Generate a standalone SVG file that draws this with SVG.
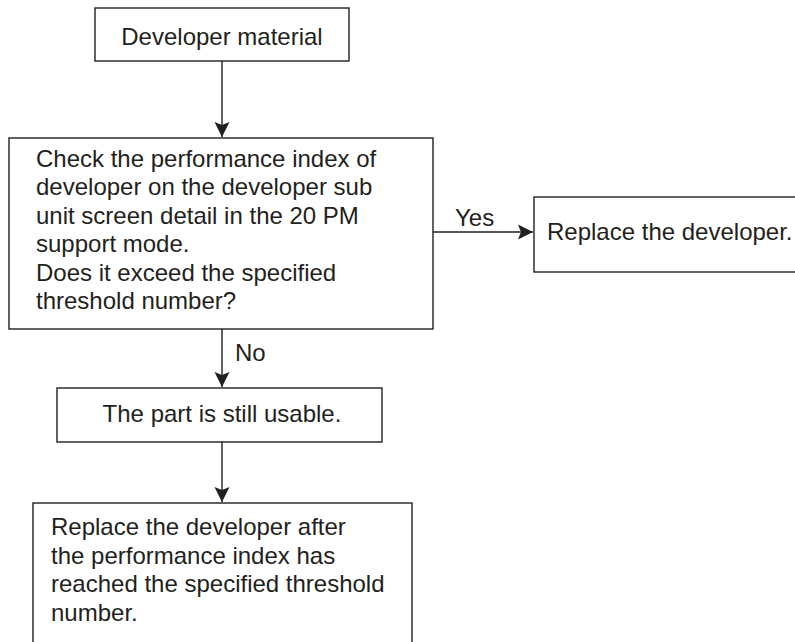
<svg xmlns="http://www.w3.org/2000/svg" width="795" height="642" viewBox="0 0 795 642">
<style>
.box{fill:#fff;stroke:#231f20;stroke-width:1.4}
.t{font-family:"Liberation Sans",Arial,sans-serif;font-size:24px;fill:#231f20}
.c{text-anchor:middle}
.ln{fill:none;stroke:#231f20;stroke-width:1.4}
</style>
<defs>
<marker id="ah" markerUnits="userSpaceOnUse" markerWidth="16" markerHeight="16" viewBox="0 0 16 16" refX="15" refY="8" orient="auto">
<path d="M0,0.5 L15,8 L0,15.5 L3,8 Z" fill="#231f20"/>
</marker>
</defs>
<rect width="795" height="642" fill="#fff"/>
<g id="connectors">
<line class="ln" x1="222" y1="61" x2="222" y2="137" marker-end="url(#ah)"/>
<line class="ln" x1="433" y1="232" x2="533" y2="232" marker-end="url(#ah)"/>
<text class="t" x="455" y="226">Yes</text>
<line class="ln" x1="222" y1="329" x2="222" y2="387" marker-end="url(#ah)"/>
<text class="t" x="235" y="361">No</text>
<line class="ln" x1="222" y1="442" x2="222" y2="502" marker-end="url(#ah)"/>
</g>
<g id="n1">
<rect class="box" x="95" y="8" width="254" height="53"/>
<text class="t c" x="222" y="45">Developer material</text>
</g>
<g id="n2">
<rect class="box" x="9" y="138" width="424" height="191"/>
<text class="t" x="36" y="167">Check the performance index of</text>
<text class="t" x="36" y="195">developer on the developer sub</text>
<text class="t" x="36" y="224">unit screen detail in the 20 PM</text>
<text class="t" x="36" y="252">support mode.</text>
<text class="t" x="36" y="281">Does it exceed the specified</text>
<text class="t" x="36" y="309">threshold number?</text>
</g>
<g id="n3">
<rect class="box" x="534" y="197" width="280" height="75"/>
<text class="t" x="547" y="240">Replace the developer.</text>
</g>
<g id="n4">
<rect class="box" x="57" y="388" width="325" height="54"/>
<text class="t c" x="222" y="422">The part is still usable.</text>
</g>
<g id="n5">
<rect class="box" x="33" y="503" width="379" height="160"/>
<text class="t" x="51" y="535">Replace the developer after</text>
<text class="t" x="51" y="564">the performance index has</text>
<text class="t" x="51" y="592">reached the specified threshold</text>
<text class="t" x="51" y="621">number.</text>
</g>
</svg>
